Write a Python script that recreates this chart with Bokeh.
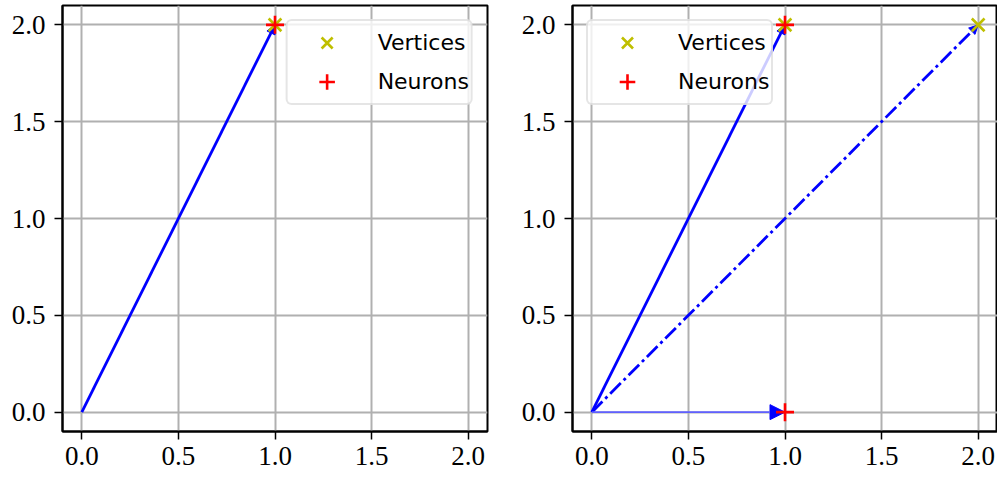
from bokeh.plotting import figure
from bokeh.layouts import row
from bokeh.models import Arrow, NormalHead, FixedTicker, NumeralTickFormatter, Range1d
from bokeh.embed import file_html
from bokeh.resources import INLINE

# ---- data ----
ticks = [0.0, 0.5, 1.0, 1.5, 2.0]
axis_lo, axis_hi = -0.1, 2.1

left_vertices_x = [1.0]
left_vertices_y = [2.0]
left_neurons_x = [1.0]
left_neurons_y = [2.0]
left_vec_x = [1.0]
left_vec_y = [2.0]
left_vec_style = ["solid"]

right_vertices_x = [1.0, 2.0]
right_vertices_y = [2.0, 2.0]
right_neurons_x = [1.0, 1.0]
right_neurons_y = [2.0, 0.0]
right_vec_x = [1.0, 2.0, 1.0]
right_vec_y = [2.0, 2.0, 0.0]
right_vec_style = ["solid", "dashdot", "thin"]

STYLES = {
    "solid": dict(line_color="#0000ff", line_width=2.8, line_dash="solid", head=9),
    "dashdot": dict(line_color="#0000ff", line_width=2.8, line_dash="15 4 3 4", head=9),
    "thin": dict(line_color="#6060ff", line_width=1.6, line_dash="solid", head=15),
}

SERIF = "Liberation Serif"
SANS = "DejaVu Sans"


def make_panel(vx, vy, nx, ny, ax, ay, styles, legend_loc, border_left, border_right):
    p = figure(output_backend="svg", toolbar_location=None,
               frame_width=425, frame_height=426,
               min_border_left=border_left, min_border_right=border_right,
               min_border_top=5, min_border_bottom=44,
               x_range=Range1d(axis_lo, axis_hi), y_range=Range1d(axis_lo, axis_hi))
    p.outline_line_color = "black"
    p.outline_line_width = 2
    p.background_fill_color = "white"
    p.border_fill_color = "white"
    for axis in (p.xaxis[0], p.yaxis[0]):
        axis.ticker = FixedTicker(ticks=ticks)
        axis.formatter = NumeralTickFormatter(format="0.0")
        axis.minor_tick_line_color = None
        axis.major_tick_in = 0
        axis.major_tick_out = 8
        axis.major_tick_line_width = 1.5
        axis.major_tick_line_color = "black"
        axis.axis_line_color = "black"
        axis.axis_line_width = 2
        axis.major_label_text_font = SERIF
        axis.major_label_text_font_size = "27px"
        axis.major_label_text_color = "black"
    p.xaxis[0].major_label_standoff = 7
    p.yaxis[0].major_label_standoff = 9
    for g in (p.xgrid[0], p.ygrid[0]):
        g.ticker = FixedTicker(ticks=ticks)
        g.grid_line_color = "#b0b0b0"
        g.grid_line_width = 2

    for x, y, s in zip(ax, ay, styles):
        st = STYLES[s]
        arr = Arrow(x_start=0, y_start=0, x_end=x, y_end=y,
                    line_color=st["line_color"], line_width=st["line_width"],
                    line_dash=st["line_dash"],
                    end=NormalHead(size=st["head"], fill_color="#0000ff",
                                   line_color="#0000ff", line_width=1),
                    level="underlay")
        p.add_layout(arr)

    p.scatter(vx, vy, marker="x", size=18, line_width=2.6, line_color="#bfbf00",
              legend_label="Vertices")
    p.scatter(nx, ny, marker="cross", size=18, line_width=2.6, line_color="#ff0000",
              legend_label="Neurons")

    lg = p.legend[0]
    lg.location = legend_loc
    lg.margin = 14
    lg.padding = 2
    lg.spacing = 0
    lg.glyph_width = 74
    lg.glyph_height = 39
    lg.label_standoff = 14
    lg.label_height = 39
    lg.label_text_font = SANS
    lg.label_text_font_size = "22px"
    lg.label_text_color = "black"
    lg.border_line_color = "#cccccc"
    lg.border_line_width = 2
    lg.border_radius = 6
    lg.background_fill_color = "white"
    lg.background_fill_alpha = 0.8
    return p


p1 = make_panel(left_vertices_x, left_vertices_y, left_neurons_x, left_neurons_y,
                left_vec_x, left_vec_y, left_vec_style, "top_right", 62, 30)
p2 = make_panel(right_vertices_x, right_vertices_y, right_neurons_x, right_neurons_y,
                right_vec_x, right_vec_y, right_vec_style, "top_left", 55, 0)

layout = row(p1, p2, spacing=0)
open("out.html", "w").write(file_html(layout, INLINE))
